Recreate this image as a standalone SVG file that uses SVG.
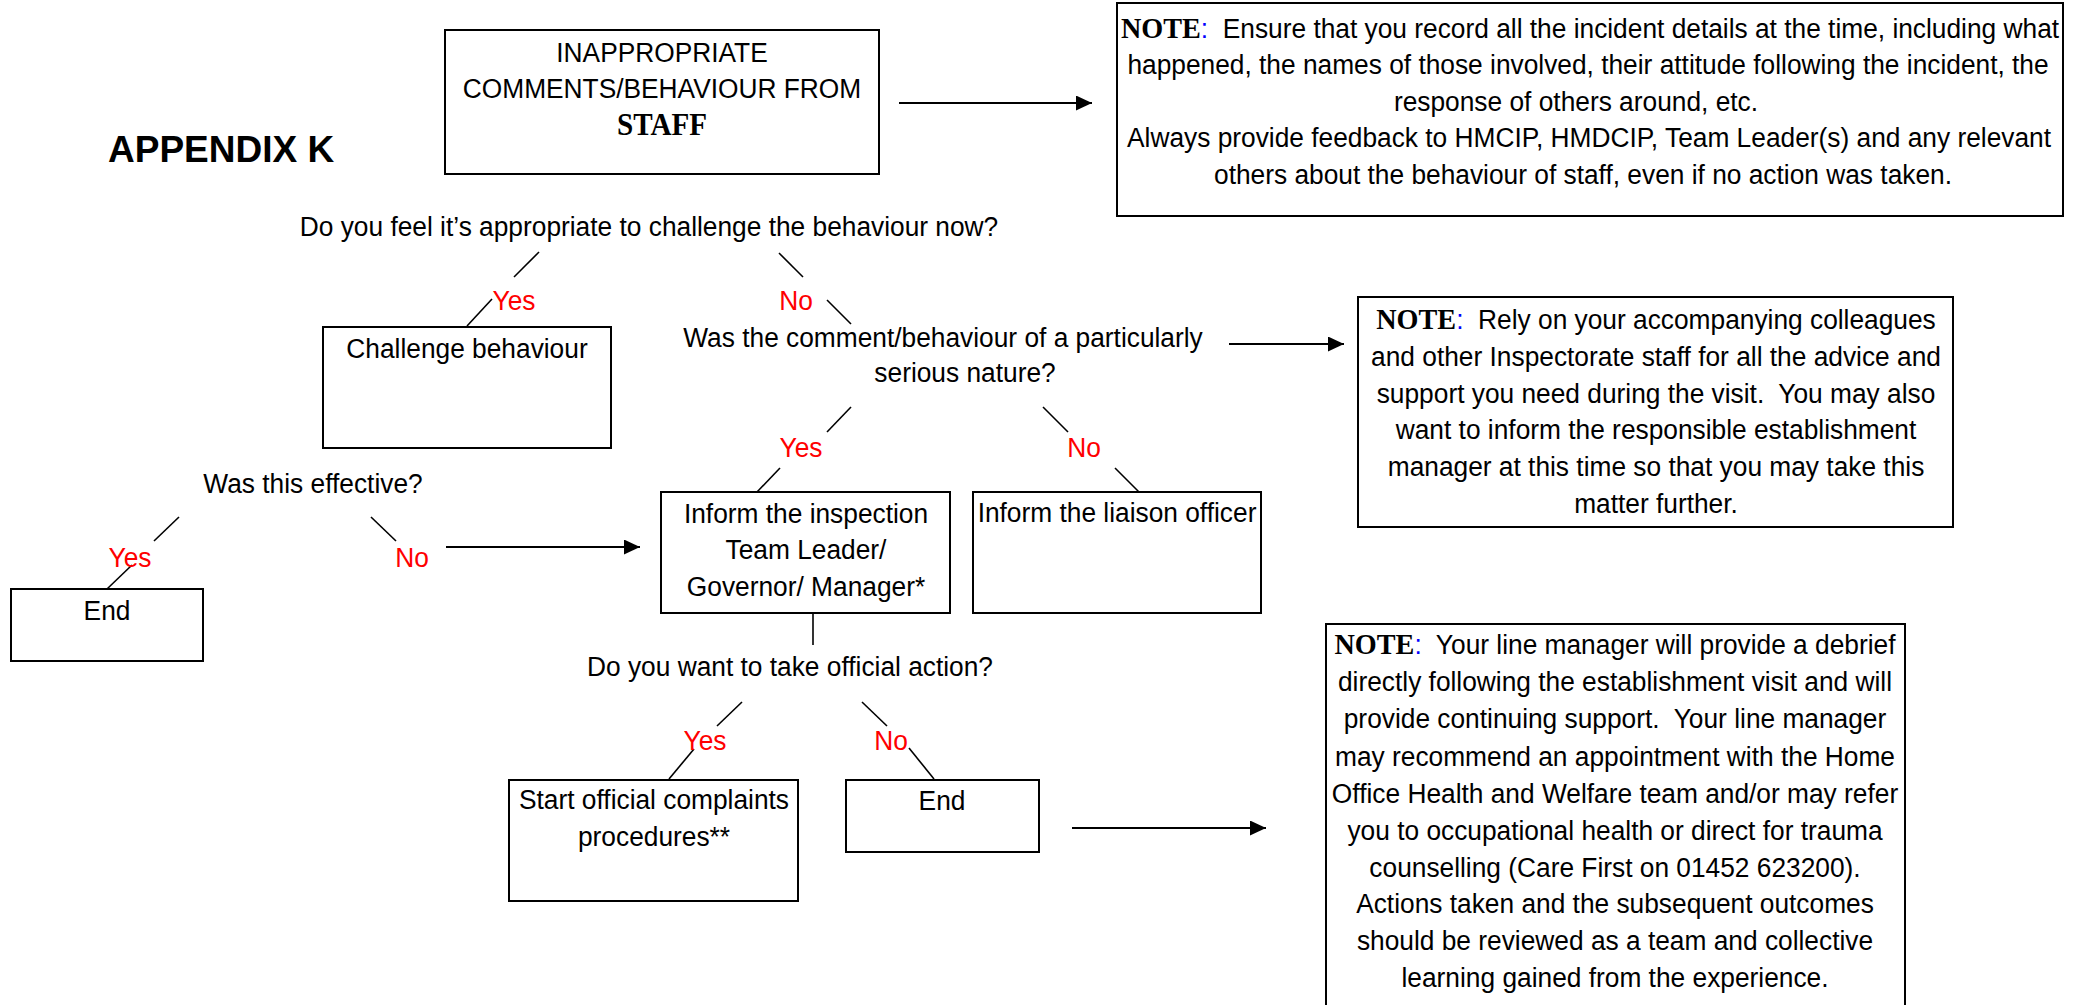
<svg xmlns="http://www.w3.org/2000/svg" width="2084" height="1005" viewBox="0 0 2084 1005">
<style>
.t{font-family:"Liberation Sans",Arial,sans-serif;font-size:28px;fill:#000;text-anchor:middle}
.r{fill:#ff0000}
.b{fill:#fff;stroke:#000;stroke-width:2}
.n{font-family:"Liberation Serif","Times New Roman",serif;font-weight:bold;fill:#000;font-size:30px}
.bl{fill:#0000ff}
.ttl{font-family:"Liberation Sans",Arial,sans-serif;font-size:37px;font-weight:bold;fill:#000}
#connectors line{stroke:#000;stroke-width:1.6}
#connectors line.a{stroke-width:2;marker-end:url(#ah)}
</style>
<defs>
<marker id="ah" markerWidth="16" markerHeight="15" refX="16" refY="7.5" orient="auto" markerUnits="userSpaceOnUse"><path d="M0,0 L16,7.5 L0,15 z" fill="#000"/></marker>
</defs>
<rect width="2084" height="1005" fill="#fff"/>

<g id="title"><text class="ttl" x="108" y="162">APPENDIX K</text></g>

<g id="n-start">
<rect class="b" x="445" y="30" width="434" height="144"/>
<text class="t" transform="translate(662 62) scale(.94 1)">INAPPROPRIATE</text>
<text class="t" transform="translate(662 98) scale(.94 1)">COMMENTS/BEHAVIOUR FROM</text>
<text class="t n" transform="translate(662 135) scale(.94 1)" style="font-size:31px">STAFF</text>
</g>

<g id="n-note1">
<rect class="b" x="1117" y="3" width="946" height="213"/>
<text class="t" xml:space="preserve" transform="translate(1590 38) scale(.94 1)"><tspan class="n">NOTE</tspan><tspan class="bl">:</tspan>  Ensure that you record all the incident details at the time, including what</text>
<text class="t" transform="translate(1588 74) scale(.94 1)">happened, the names of those involved, their attitude following the incident, the</text>
<text class="t" transform="translate(1576 111) scale(.94 1)">response of others around, etc.</text>
<text class="t" transform="translate(1589 147) scale(.94 1)">Always provide feedback to HMCIP, HMDCIP, Team Leader(s) and any relevant</text>
<text class="t" transform="translate(1583 184) scale(.94 1)">others about the behaviour of staff, even if no action was taken.</text>
</g>

<g id="q1"><text class="t" transform="translate(649 236) scale(.94 1)">Do you feel it’s appropriate to challenge the behaviour now?</text></g>

<g id="n-challenge">
<rect class="b" x="323" y="327" width="288" height="121"/>
<text class="t" transform="translate(467 358) scale(.94 1)">Challenge behaviour</text>
</g>

<g id="q2">
<text class="t" transform="translate(943 347) scale(.94 1)">Was the comment/behaviour of a particularly</text>
<text class="t" transform="translate(965 382) scale(.94 1)">serious nature?</text>
</g>

<g id="n-note2">
<rect class="b" x="1358" y="297" width="595" height="230"/>
<text class="t" xml:space="preserve" transform="translate(1656 329) scale(.94 1)"><tspan class="n">NOTE</tspan><tspan class="bl">:</tspan>  Rely on your accompanying colleagues</text>
<text class="t" transform="translate(1656 366) scale(.94 1)">and other Inspectorate staff for all the advice and</text>
<text class="t" xml:space="preserve" transform="translate(1656 403) scale(.94 1)">support you need during the visit.  You may also</text>
<text class="t" transform="translate(1656 439) scale(.94 1)">want to inform the responsible establishment</text>
<text class="t" transform="translate(1656 476) scale(.94 1)">manager at this time so that you may take this</text>
<text class="t" transform="translate(1656 513) scale(.94 1)">matter further.</text>
</g>

<g id="q3"><text class="t" transform="translate(313 493) scale(.94 1)">Was this effective?</text></g>

<g id="n-end1">
<rect class="b" x="11" y="589" width="192" height="72"/>
<text class="t" transform="translate(107 620) scale(.94 1)">End</text>
</g>

<g id="n-inform">
<rect class="b" x="661" y="492" width="289" height="121"/>
<text class="t" transform="translate(806 523) scale(.94 1)">Inform the inspection</text>
<text class="t" transform="translate(806 559) scale(.94 1)">Team Leader/</text>
<text class="t" transform="translate(806 596) scale(.94 1)">Governor/ Manager*</text>
</g>

<g id="n-liaison">
<rect class="b" x="973" y="492" width="288" height="121"/>
<text class="t" transform="translate(1117 522) scale(.94 1)">Inform the liaison officer</text>
</g>

<g id="q4"><text class="t" transform="translate(790 676) scale(.94 1)">Do you want to take official action?</text></g>

<g id="n-complaints">
<rect class="b" x="509" y="780" width="289" height="121"/>
<text class="t" transform="translate(654 809) scale(.94 1)">Start official complaints</text>
<text class="t" transform="translate(654 846) scale(.94 1)">procedures**</text>
</g>

<g id="n-end2">
<rect class="b" x="846" y="780" width="193" height="72"/>
<text class="t" transform="translate(942 810) scale(.94 1)">End</text>
</g>

<g id="n-note3">
<rect class="b" x="1326" y="624" width="579" height="400"/>
<text class="t" xml:space="preserve" transform="translate(1615 654) scale(.94 1)"><tspan class="n">NOTE</tspan><tspan class="bl">:</tspan>  Your line manager will provide a debrief</text>
<text class="t" transform="translate(1615 691) scale(.94 1)">directly following the establishment visit and will</text>
<text class="t" xml:space="preserve" transform="translate(1615 728) scale(.94 1)">provide continuing support.  Your line manager</text>
<text class="t" transform="translate(1615 766) scale(.94 1)">may recommend an appointment with the Home</text>
<text class="t" transform="translate(1615 803) scale(.94 1)">Office Health and Welfare team and/or may refer</text>
<text class="t" transform="translate(1615 840) scale(.94 1)">you to occupational health or direct for trauma</text>
<text class="t" transform="translate(1615 877) scale(.94 1)">counselling (Care First on 01452 623200).</text>
<text class="t" transform="translate(1615 913) scale(.94 1)">Actions taken and the subsequent outcomes</text>
<text class="t" transform="translate(1615 950) scale(.94 1)">should be reviewed as a team and collective</text>
<text class="t" transform="translate(1615 987) scale(.94 1)">learning gained from the experience.</text>
</g>

<g id="connectors">
<line class="a" x1="899" y1="103" x2="1092" y2="103"/>
<line class="a" x1="1229" y1="344" x2="1344" y2="344"/>
<line class="a" x1="446" y1="547" x2="640" y2="547"/>
<line class="a" x1="1072" y1="828" x2="1266" y2="828"/>
<line x1="539" y1="252" x2="514" y2="277"/>
<line x1="492" y1="299" x2="467" y2="326"/>
<line x1="779" y1="253" x2="803" y2="277"/>
<line x1="827" y1="300" x2="851" y2="324"/>
<line x1="851" y1="407" x2="827" y2="432"/>
<line x1="780" y1="468" x2="757" y2="492"/>
<line x1="1043" y1="407" x2="1068" y2="432"/>
<line x1="1115" y1="468" x2="1139" y2="492"/>
<line x1="179" y1="517" x2="154" y2="541"/>
<line x1="132" y1="565" x2="107" y2="589"/>
<line x1="371" y1="517" x2="396" y2="541"/>
<line x1="813" y1="613" x2="813" y2="645"/>
<line x1="742" y1="702" x2="717" y2="726"/>
<line x1="694" y1="749" x2="669" y2="779"/>
<line x1="862" y1="702" x2="887" y2="726"/>
<line x1="909" y1="748" x2="934" y2="779"/>
</g>

<g id="labels">
<text class="t r" transform="translate(514 310) scale(.94 1)">Yes</text>
<text class="t r" transform="translate(796 310) scale(.94 1)">No</text>
<text class="t r" transform="translate(801 457) scale(.94 1)">Yes</text>
<text class="t r" transform="translate(1084 457) scale(.94 1)">No</text>
<text class="t r" transform="translate(130 567) scale(.94 1)">Yes</text>
<text class="t r" transform="translate(412 567) scale(.94 1)">No</text>
<text class="t r" transform="translate(705 750) scale(.94 1)">Yes</text>
<text class="t r" transform="translate(891 750) scale(.94 1)">No</text>
</g>
</svg>
